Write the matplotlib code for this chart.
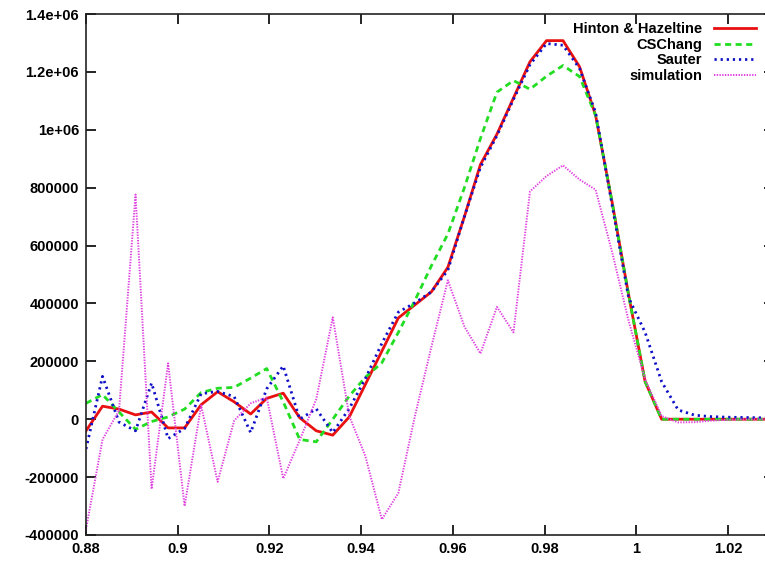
import matplotlib
matplotlib.use("Agg")
import matplotlib.pyplot as plt
from matplotlib.ticker import FixedLocator, FuncFormatter

# shared abscissa
x = [0.8800, 0.8836, 0.8872, 0.8908, 0.8943, 0.8979, 0.9015, 0.9051, 0.9087, 0.9123,
     0.9159, 0.9194, 0.9230, 0.9266, 0.9302, 0.9338, 0.9374, 0.9409, 0.9445, 0.9481,
     0.9517, 0.9553, 0.9589, 0.9625, 0.9660, 0.9696, 0.9732, 0.9768, 0.9804, 0.9840,
     0.9876, 0.9911, 0.9947, 0.9983, 1.0019, 1.0055, 1.0091, 1.0127, 1.0162, 1.0198,
     1.0234, 1.0270, 1.0306]

hinton = [-40000, 45000, 35000, 15000, 25000, -30000, -30000, 50000, 95000, 60000,
          18000, 72000, 90000, 5000, -40000, -55000, 8000, 120000, 235000, 350000,
          395000, 440000, 525000, 700000, 880000, 985000, 1110000, 1235000, 1308000, 1308000,
          1218000, 1050000, 750000, 430000, 130000, 0, 0, 0, 0, 0,
          0, 0, 0]

cschang = [55000, 85000, 25000, -35000, -8000, 8000, 35000, 92000, 107000, 110000,
           142000, 175000, 60000, -70000, -78000, 0, 80000, 145000, 195000, 300000,
           410000, 530000, 640000, 800000, 970000, 1130000, 1170000, 1140000, 1185000, 1222000,
           1184000, 1050000, 750000, 430000, 130000, 0, 0, 0, 0, 0,
           0, 0, 0]

sauter = [-103000, 148000, -10000, -40000, 125000, -67000, -32000, 88000, 96000, 78000,
          -46000, 105000, 184000, 0, 36000, -46000, 37000, 140000, 262000, 370000,
          402000, 440000, 515000, 700000, 870000, 980000, 1105000, 1225000, 1298000, 1292000,
          1212000, 1060000, 740000, 420000, 300000, 130000, 32000, 14000, 9000, 7000,
          6000, 5000, 5000]

simulation = [-380000, -70000, 30000, 776000, -241000, 193000, -300000, 48000, -216000, -5000,
              55000, 75000, -205000, -72000, 69000, 352000, 11000, -127000, -346000, -255000,
              10000, 250000, 480000, 320000, 227000, 388000, 300000, 787000, 840000, 877000,
              828000, 793000, 578000, 340000, 138000, 11000, -11000, -10000, -5000, -2000,
              0, 0, 0]

xticks = [0.88, 0.9, 0.92, 0.94, 0.96, 0.98, 1.0, 1.02]
yticks = [-400000, -200000, 0, 200000, 400000, 600000, 800000, 1000000, 1200000, 1400000]


def ylabel_fmt(v, pos):
    v = int(round(v))
    if abs(v) >= 1000000:
        return "%ge+06" % (v / 1e6)
    return str(v)


plt.rcParams["font.family"] = ["Liberation Sans", "DejaVu Sans"]

fig = plt.figure(figsize=(7.65, 5.62), dpi=100)
ax = fig.add_axes([86 / 765, 27 / 562, 688 / 765, 521 / 562])

ax.plot(x, hinton, color="#e81010", lw=2.0, label="Hinton & Hazeltine")
ax.plot(x, cschang, color="#22dd22", lw=2.0, ls=(0, (2.2, 1.6)), label="CSChang")
ax.plot(x, sauter, color="#1010c8", lw=2.0, ls=(0, (0.8, 1.4)), label="Sauter")
ax.plot(x, simulation, color="#e040e0", lw=1.4, ls=(0, (0.7, 0.7)), label="simulation")

ax.set_xlim(0.88, 1.03)
ax.set_ylim(-400000, 1400000)
ax.xaxis.set_major_locator(FixedLocator(xticks))
ax.yaxis.set_major_locator(FixedLocator(yticks))
ax.xaxis.set_major_formatter(FuncFormatter(lambda v, p: "%g" % round(v, 4)))
ax.yaxis.set_major_formatter(FuncFormatter(ylabel_fmt))

ax.tick_params(direction="in", length=7, width=1.2, top=True, right=True,
               labelsize=10.5, pad=5)
for lab in ax.get_xticklabels() + ax.get_yticklabels():
    lab.set_fontweight("bold")
for sp in ax.spines.values():
    sp.set_linewidth(1.2)
    sp.set_color("#222222")

leg = ax.legend(loc="upper right", bbox_to_anchor=(756 / 765, 1 - 22 / 562),
                bbox_transform=fig.transFigure, markerfirst=False, frameon=False,
                handlelength=2.9, handletextpad=0.8, labelspacing=0.12,
                prop={"size": 10.5, "weight": "bold"}, borderaxespad=0, borderpad=0)

plt.savefig("out.png", dpi=100)
plt.close()
